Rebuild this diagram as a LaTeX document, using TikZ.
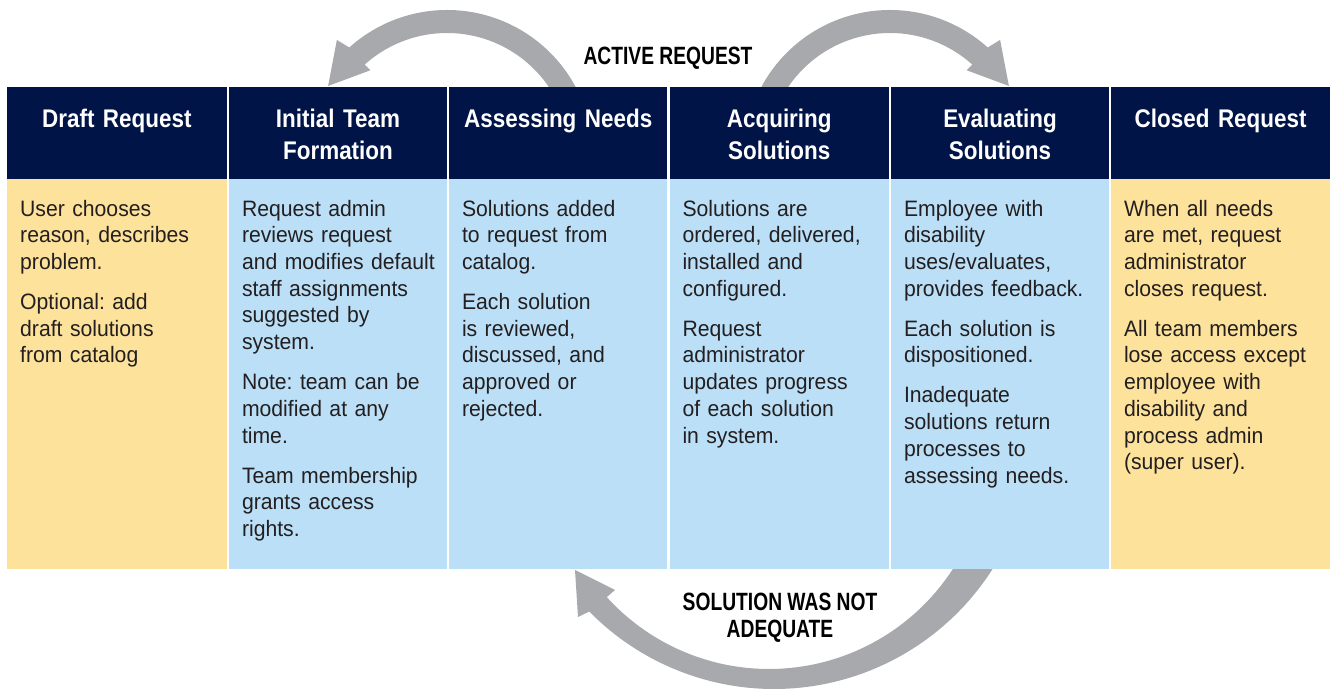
\documentclass[tikz,border=0pt]{standalone}
\usepackage{fontspec}
\setmainfont{Liberation Sans}[FakeStretch=0.95]
\newfontfamily\hdfont{Liberation Sans}[FakeStretch=0.88]
\newfontfamily\lbfont{Liberation Sans}[FakeStretch=0.77]
\usetikzlibrary{calc}
\setlength{\parindent}{0pt}
\frenchspacing
\definecolor{navy}{RGB}{0,20,72}
\definecolor{paleyellow}{RGB}{253,226,155}
\definecolor{paleblue}{RGB}{187,223,246}
\definecolor{arrowgray}{RGB}{167,169,172}
\definecolor{bodytext}{RGB}{35,31,32}
\tikzset{
  hdr/.style={fill=navy, inner sep=0pt, outer sep=0pt, minimum height=92pt, anchor=north west},
  bodybox/.style={inner sep=0pt, outer sep=0pt, minimum height=390pt, anchor=north west},
  hdrtext/.style={text=white, inner sep=0pt, anchor=north, text width=215pt, align=center,
    font={\hdfont\bfseries\fontsize{25.5}{32.5}\selectfont}},
  bodytxt/.style={text=bodytext, inner sep=0pt, anchor=north west, text width=212pt, align=left,
    font={\fontsize{22.3}{26.7}\selectfont}},
  looplabel/.style={text=black, inner sep=0pt, align=center,
    font={\lbfont\bfseries\fontsize{25}{27.7}\selectfont}}
}
\newcommand{\pg}{\\[13.3pt]}
\newcommand{\fs}{\rule{0pt}{20pt}}
\newcommand{\hs}{\rule{0pt}{22pt}}
\begin{document}
\begin{tikzpicture}[x=1pt, y=1pt]
\useasboundingbox (0,0) rectangle (1330,690);
\fill[white] (0,0) rectangle (1330,690);
% curved arrows
\fill[arrowgray] ($(447,534)+(20:146pt)$) arc[start angle=20, end angle=132, radius=146pt]
  -- ($(447,534)+(133.5:160pt)$) -- ($(447,534)+(149.5:138pt)$) -- ($(447,534)+(131.8:115pt)$)
  -- ($(447,534)+(132:123pt)$) arc[start angle=132, end angle=20, radius=123pt] -- cycle;
\fill[arrowgray] ($(890,534)+(160:146pt)$) arc[start angle=160, end angle=48, radius=146pt]
  -- ($(890,534)+(46.5:160pt)$) -- ($(890,534)+(30.5:138pt)$) -- ($(890,534)+(48.2:115pt)$)
  -- ($(890,534)+(48:123pt)$) arc[start angle=48, end angle=160, radius=123pt] -- cycle;
\fill[arrowgray] ($(774,260)+(-25:259pt)$) arc[start angle=-25, end angle=-135.5, radius=259pt]
  -- (578,73) -- (575,120) -- (615,100)
  -- ($(769,240)+(-137.8:219pt)$) arc[start angle=-137.8, end angle=-25, radius=219pt] -- cycle;
% headers
\node[hdr, minimum width=219.7pt] (h1) at (7,603) {};
\node[hdr, minimum width=217.4pt] (h2) at (229.3,603) {};
\node[hdr, minimum width=217.9pt] (h3) at (449.3,603) {};
\node[hdr, minimum width=218.9pt] (h4) at (669.8,603) {};
\node[hdr, minimum width=217.4pt] (h5) at (891.3,603) {};
\node[hdr, minimum width=218.7pt] (h6) at (1111.3,603) {};
% bodies
\node[bodybox, minimum width=219.7pt, fill=paleyellow] (b1) at (7,511) {};
\node[bodybox, minimum width=217.4pt, fill=paleblue] (b2) at (229.3,511) {};
\node[bodybox, minimum width=217.9pt, fill=paleblue] (b3) at (449.3,511) {};
\node[bodybox, minimum width=218.9pt, fill=paleblue] (b4) at (669.8,511) {};
\node[bodybox, minimum width=217.4pt, fill=paleblue] (b5) at (891.3,511) {};
\node[bodybox, minimum width=218.7pt, fill=paleyellow] (b6) at (1111.3,511) {};
% header texts
\node[hdrtext] (t1) at ($(h1.north)+(0,-18)$) {\hs Draft Request};
\node[hdrtext] (t2) at ($(h2.north)+(0,-18)$) {\hs Initial Team\\Formation};
\node[hdrtext] (t3) at ($(h3.north)+(0,-18)$) {\hs Assessing Needs};
\node[hdrtext] (t4) at ($(h4.north)+(0,-18)$) {\hs Acquiring\\Solutions};
\node[hdrtext] (t5) at ($(h5.north)+(0,-18)$) {\hs Evaluating\\Solutions};
\node[hdrtext] (t6) at ($(h6.north)+(0,-18)$) {\hs Closed Request};
% body texts
\node[bodytxt] (x1) at ($(b1.north west)+(13,-17)$) {\fs User chooses\\reason, describes\\problem.\pg Optional: add\\draft solutions\\from catalog};
\node[bodytxt] (x2) at ($(b2.north west)+(12.5,-17)$) {\fs Request admin\\reviews request\\and modifies default\\staff assignments\\suggested by\\system.\pg Note: team can be\\modified at any\\time.\pg Team membership\\grants access\\rights.};
\node[bodytxt] (x3) at ($(b3.north west)+(12.5,-17)$) {\fs Solutions added\\to request from\\catalog.\pg Each solution\\is reviewed,\\discussed, and\\approved or\\rejected.};
\node[bodytxt] (x4) at ($(b4.north west)+(12.5,-17)$) {\fs Solutions are\\ordered, delivered,\\installed and\\configured.\pg Request\\administrator\\updates progress\\of each solution\\in system.};
\node[bodytxt] (x5) at ($(b5.north west)+(12.5,-17)$) {\fs Employee with\\disability\\uses/evaluates,\\provides feedback.\pg Each solution is\\dispositioned.\pg Inadequate\\solutions return\\processes to\\assessing needs.};
\node[bodytxt] (x6) at ($(b6.north west)+(12.5,-17)$) {\fs When all needs\\are met, request\\administrator\\closes request.\pg All team members\\lose access except\\employee with\\disability and\\process admin\\(super user).};
% loop labels
\node[looplabel, anchor=base] (active) at (668,625) {ACTIVE REQUEST};
\node[looplabel, anchor=north] (notadequate) at (780,100) {\rule{0pt}{20pt}SOLUTION WAS NOT\\ADEQUATE};
\end{tikzpicture}
\end{document}
